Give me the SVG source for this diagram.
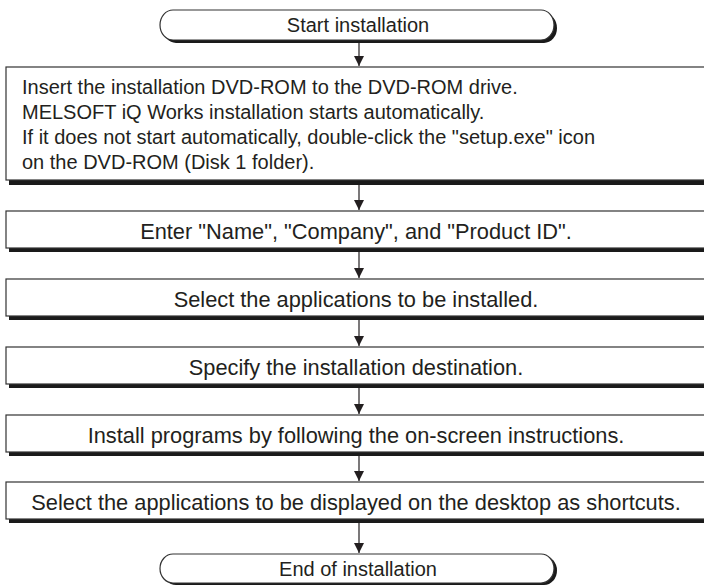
<svg xmlns="http://www.w3.org/2000/svg" width="704" height="585" viewBox="0 0 704 585">
<style>
.sh{fill:#1a1a1a;stroke:none}
.bx{fill:#fff;stroke:#333;stroke-width:1.2}
.t{font-family:"Liberation Sans",Arial,sans-serif;font-size:20px;fill:#231f20}
.s{font-size:21.8px}
.c{text-anchor:middle}
.ln{stroke:#231f20;stroke-width:1.2;fill:none}
</style>
<defs>
<marker id="ah" markerWidth="12" markerHeight="12" refX="10" refY="5" orient="auto" markerUnits="userSpaceOnUse">
<path d="M0,0 L10,5 L0,10 Z" fill="#231f20"/>
</marker>
</defs>
<rect width="704" height="585" fill="#fff"/>
<g id="start">
<rect class="sh" x="163" y="13" width="394" height="30" rx="13" ry="15"/>
<rect class="bx" x="160" y="10" width="394" height="30" rx="13" ry="15"/>
<text class="t c" x="358" y="32">Start installation</text>
</g>
<g id="step1">
<rect class="sh" x="9" y="71" width="710" height="114"/>
<rect class="bx" x="6" y="67" width="710" height="113"/>
<text class="t" x="22" y="94">Insert the installation DVD-ROM to the DVD-ROM drive.</text>
<text class="t" x="22" y="119">MELSOFT iQ Works installation starts automatically.</text>
<text class="t" x="22" y="144">If it does not start automatically, double-click the "setup.exe" icon</text>
<text class="t" x="22" y="169">on the DVD-ROM (Disk 1 folder).</text>
</g>
<g id="step2">
<rect class="sh" x="9" y="215" width="710" height="37"/>
<rect class="bx" x="6" y="211" width="710" height="37"/>
<text class="t s c" x="356" y="239">Enter "Name", "Company", and "Product ID".</text>
</g>
<g id="step3">
<rect class="sh" x="9" y="283" width="710" height="37"/>
<rect class="bx" x="6" y="279" width="710" height="37"/>
<text class="t s c" x="356" y="307">Select the applications to be installed.</text>
</g>
<g id="step4">
<rect class="sh" x="9" y="351" width="710" height="37"/>
<rect class="bx" x="6" y="347" width="710" height="37"/>
<text class="t s c" x="356" y="375">Specify the installation destination.</text>
</g>
<g id="step5">
<rect class="sh" x="9" y="419" width="710" height="37"/>
<rect class="bx" x="6" y="415" width="710" height="37"/>
<text class="t s c" x="356" y="443">Install programs by following the on-screen instructions.</text>
</g>
<g id="step6">
<rect class="sh" x="9" y="486" width="710" height="37"/>
<rect class="bx" x="6" y="482" width="710" height="37"/>
<text class="t s c" x="356" y="510">Select the applications to be displayed on the desktop as shortcuts.</text>
</g>
<g id="end">
<rect class="sh" x="163" y="556" width="394" height="29" rx="13" ry="15"/>
<rect class="bx" x="160" y="554" width="394" height="29" rx="13" ry="15"/>
<text class="t c" x="358" y="576">End of installation</text>
</g>
<g id="connectors">
<line class="ln" x1="359" y1="43" x2="359" y2="66" marker-end="url(#ah)"/>
<line class="ln" x1="359" y1="185" x2="359" y2="210" marker-end="url(#ah)"/>
<line class="ln" x1="359" y1="252" x2="359" y2="278" marker-end="url(#ah)"/>
<line class="ln" x1="359" y1="320" x2="359" y2="346" marker-end="url(#ah)"/>
<line class="ln" x1="359" y1="388" x2="359" y2="414" marker-end="url(#ah)"/>
<line class="ln" x1="359" y1="456" x2="359" y2="481" marker-end="url(#ah)"/>
<line class="ln" x1="359" y1="523" x2="359" y2="553" marker-end="url(#ah)"/>
</g>
</svg>
